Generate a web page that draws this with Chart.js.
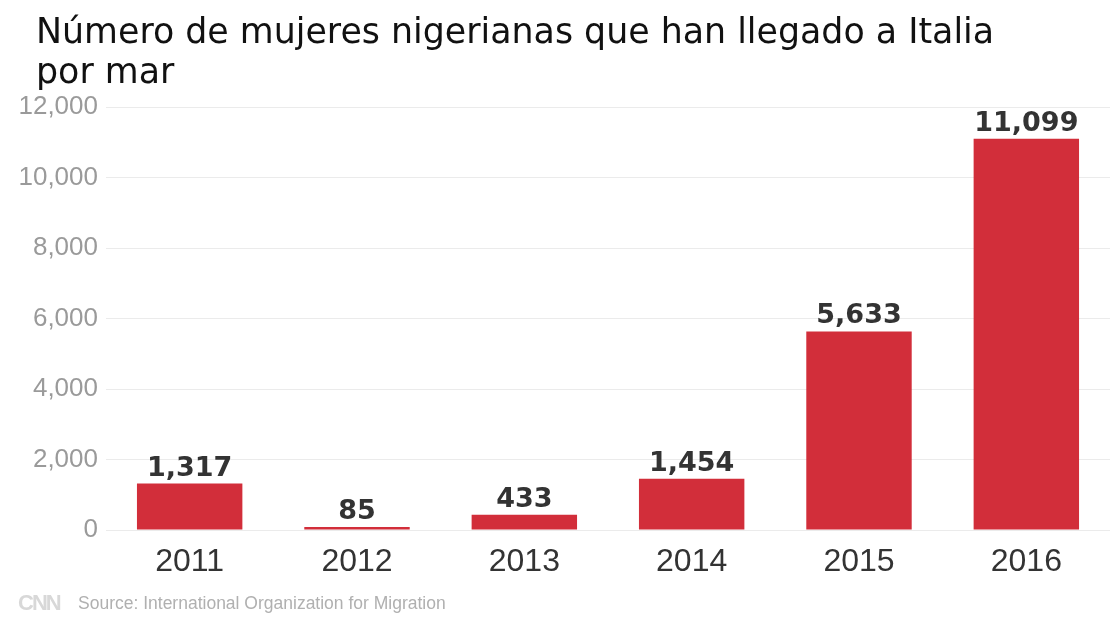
<!DOCTYPE html>
<html>
<head>
<meta charset="utf-8">
<script src="https://cdn.jsdelivr.net/npm/chart.js@4/dist/chart.umd.min.js"></script>
<style>
  html, body { margin:0; padding:0; background:#fff; }
  #wrap { position:relative; width:1110px; height:638px; overflow:hidden; }
  #title { position:absolute; left:36px; top:11px; font-family:"DejaVu Sans", sans-serif; font-size:34.8px; line-height:40px; color:#111; white-space:nowrap; }
  #foot { position:absolute; left:18px; top:590px; font-family:"Liberation Sans", Arial, sans-serif; color:#b0b0b0; font-size:17.5px; }
  #foot b { display:inline-block; width:60px; font-size:22px; letter-spacing:-2px; color:#d8d8d8; vertical-align:-1px; }
  canvas { position:absolute; left:0; top:0; }
</style>
</head>
<body>
<div id="wrap">
  <canvas id="c" width="1110" height="638"></canvas>
  <div id="title">Número de mujeres nigerianas que han llegado a Italia<br>por mar</div>
  <div id="foot"><b>CNN</b>Source: International Organization for Migration</div>
</div>
<script>
const years = ['2011','2012','2013','2014','2015','2016'];
const women = [1317, 85, 433, 1454, 5633, 11099];
const yTicks = [0, 2000, 4000, 6000, 8000, 10000, 12000];

const fmt = n => n.toLocaleString('en-US');

// value labels above each bar
const barLabels = {
  id: 'barLabels',
  afterDatasetsDraw(chart){
    const ctx = chart.ctx;
    const meta = chart.getDatasetMeta(0);
    ctx.save();
    ctx.font = 'bold 27px "DejaVu Sans", sans-serif';
    ctx.fillStyle = '#333';
    ctx.textAlign = 'center';
    ctx.textBaseline = 'alphabetic';
    meta.data.forEach((bar, i) => {
      ctx.fillText(fmt(women[i]), bar.x, bar.y - 8);
    });
    ctx.restore();
  }
};

new Chart(document.getElementById('c'), {
  type: 'bar',
  data: {
    labels: years,
    datasets: [{
      data: women,
      backgroundColor: '#d22e3a',
      categoryPercentage: 1,
      barPercentage: 0.63,
      minBarLength: 3
    }]
  },
  options: {
    responsive: false,
    animation: false,
    events: [],
    layout: { padding: { top: 107, bottom: 48, left: 0, right: 0 } },
    plugins: { legend: { display:false }, tooltip: { enabled:false }, title: { display:false } },
    scales: {
      x: {
        grid: { display:false },
        border: { display:false },
        ticks: { color:'#333', font:{ family:'"Liberation Sans", Arial, sans-serif', size:32 }, padding:5 },
        afterFit(s){ s.height = 60; }
      },
      y: {
        min: 0, max: 12000,
        afterBuildTicks(s){ s.ticks = yTicks.map(v => ({ value:v })); },
        grid: { color:'#ebebeb', drawTicks:false, lineWidth:1 },
        border: { display:false },
        ticks: { color:'#9a9a9a', font:{ family:'"Liberation Sans", Arial, sans-serif', size:26 }, padding:8, callback: v => fmt(v) },
        afterFit(s){ s.width = 106; }
      }
    }
  },
  plugins: [barLabels]
});
</script>
</body>
</html>
